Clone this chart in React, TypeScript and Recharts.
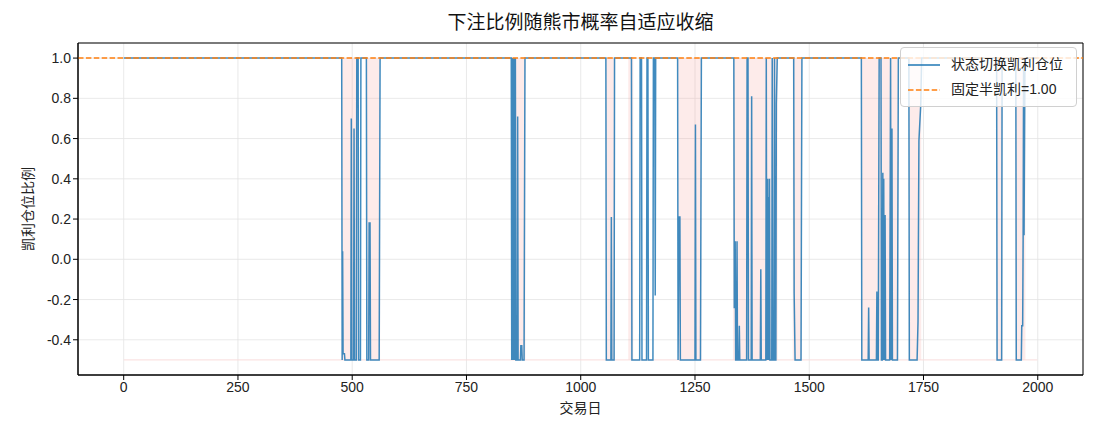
import React from 'react';
import {
  LineChart, Line, XAxis, YAxis, CartesianGrid, ReferenceLine, ReferenceArea,
} from 'recharts';

// Trading day breakpoints of the regime-switching Kelly position
const days = [
  0, 477, 478, 479, 480, 483, 484, 497, 498, 499, 503, 504, 505, 509, 510, 513, 514, 518, 519, 531,
  532, 536, 537, 539, 540, 559, 561,
  848, 849, 851, 852, 854, 855, 857, 858, 861, 862, 863, 868, 869, 871, 872, 876, 878,
  1055, 1056, 1066, 1067, 1068, 1073, 1074,
  1111, 1112, 1129, 1130, 1133, 1134, 1144, 1145, 1147, 1148, 1158, 1159, 1162, 1163, 1164,
  1212, 1213, 1215, 1217, 1218, 1250, 1251, 1252, 1262, 1264,
  1335, 1336, 1337, 1338, 1339, 1341, 1342, 1343, 1346, 1347, 1348, 1363, 1364, 1366, 1367, 1373,
  1374, 1375, 1393, 1394, 1395, 1405, 1406, 1407, 1409, 1410, 1411, 1412, 1413, 1414, 1418, 1419,
  1420, 1423, 1424, 1425, 1427, 1428, 1430,
  1466, 1467, 1469, 1482, 1484,
  1614, 1615, 1629, 1630, 1631, 1647, 1648, 1649, 1651, 1653, 1657, 1658, 1660, 1661, 1662, 1663,
  1664, 1666, 1667, 1676, 1678, 1679, 1681, 1682, 1693, 1695,
  1718, 1719, 1736, 1738, 1740, 1744, 1746,
  1910, 1911, 1921, 1922, 1952, 1953, 1964, 1965, 1967, 1968, 1969, 1970, 1972, 1999,
];
const kelly = [
  1.0, 1.0, -0.5, 0.04, -0.47, -0.47, -0.5, -0.5, 0.70, -0.5, -0.5, 0.65, -0.5, -0.5, 1.0, 1.0, -0.5, -0.5, 1.0, 1.0,
  -0.5, -0.5, 0.18, 0.18, -0.5, -0.5, 1.0,
  1.0, -0.5, 1.0, -0.5, 1.0, -0.5, 1.0, -0.5, -0.5, 0.71, -0.5, -0.5, -0.43, -0.43, -0.5, -0.5, 1.0,
  1.0, -0.5, -0.5, 0.21, -0.5, -0.5, 1.0,
  1.0, -0.5, -0.5, 1.0, 1.0, -0.5, -0.5, 1.0, 1.0, -0.5, -0.5, 1.0, 1.0, -0.18, 1.0,
  1.0, -0.5, 0.21, 0.21, -0.5, -0.5, 0.67, -0.5, -0.5, 1.0,
  1.0, -0.24, -0.24, 0.09, -0.5, -0.5, 0.09, -0.5, -0.5, -0.33, -0.5, -0.5, 1.0, 1.0, -0.5, -0.5,
  0.81, -0.5, -0.5, -0.05, -0.5, -0.5, 1.0, -0.5, 0.40, -0.5, 0.31, -0.5, 0.40, -0.5, -0.5, 1.0,
  -0.5, -0.5, 1.0, -0.5, -0.5, 0.77, 1.0,
  1.0, -0.17, -0.5, -0.5, 1.0,
  1.0, -0.5, -0.5, -0.24, -0.5, -0.5, -0.16, -0.5, -0.5, 1.0, 1.0, -0.5, -0.5, 0.43, -0.5, 0.40,
  -0.5, 0.22, -0.5, -0.5, 1.0, -0.5, 0.65, -0.5, -0.5, 1.0,
  1.0, -0.5, -0.5, -0.31, 0.59, 0.77, 1.0,
  1.0, -0.5, -0.5, 1.0, 1.0, -0.5, -0.5, -0.33, -0.33, 0.10, 0.95, 0.12, 1.0, 1.0,
];

// Bear regime spans (shaded)
const bearStart = [477, 532, 848, 1055, 1104, 1213, 1333, 1464, 1614, 1718, 1909, 1951];
const bearEnd = [512, 561, 879, 1075, 1115, 1264, 1431, 1484, 1695, 1745, 1923, 1973];

const halfKelly = 1.0;
const xTicks = [0, 250, 500, 750, 1000, 1250, 1500, 1750, 2000];
const yTicks = [-0.4, -0.2, 0.0, 0.2, 0.4, 0.6, 0.8, 1.0];
const xDomain: [number, number] = [-100, 2099];
const yDomain: [number, number] = [-0.575, 1.075];

const data = days.map((d, i) => ({ day: d, kelly: kelly[i] }));

const FONT = '"Liberation Sans", "Noto Sans CJK SC", sans-serif';
const BLUE = '#1f77b4';
const ORANGE = '#ff7f0e';

const LegendBox = () => (
  <div
    style={{
      position: 'absolute', left: 900, top: 47, width: 177, boxSizing: 'border-box',
      background: 'rgba(255,255,255,0.8)',
      border: '1px solid #d0d0d0',
      borderRadius: 4,
      padding: '4px 6px 4px 6px',
      fontFamily: FONT,
      fontSize: 14,
      color: '#222',
      lineHeight: '25px',
    }}
  >
    <div style={{ display: 'flex', alignItems: 'center' }}>
      <svg width={34} height={10} style={{ marginRight: 10 }}>
        <line x1={1} y1={5} x2={33} y2={5} stroke={BLUE} strokeWidth={1.5} />
      </svg>
      <span>状态切换凯利仓位</span>
    </div>
    <div style={{ display: 'flex', alignItems: 'center' }}>
      <svg width={34} height={10} style={{ marginRight: 10 }}>
        <line x1={1} y1={5} x2={33} y2={5} stroke={ORANGE} strokeWidth={1.5} strokeDasharray="5.5 2.4" />
      </svg>
      <span>固定半凯利=1.00</span>
    </div>
  </div>
);

export default function App() {
  return (
    <div style={{ position: 'absolute', left: 0, top: 0, width: 1100, height: 440, background: '#fff' }}>
      <div
        style={{
          position: 'absolute', left: 78, width: 1005, top: 10, textAlign: 'center',
          fontFamily: FONT, fontSize: 19, color: '#111', lineHeight: '26px',
        }}
      >
        下注比例随熊市概率自适应收缩
      </div>
      <LineChart
        width={1100}
        height={440}
        data={data}
        margin={{ top: 43, right: 17, bottom: 35, left: 0 }}
        style={{ fontFamily: FONT }}
      >
        <CartesianGrid stroke="#e3e3e3" strokeWidth={0.8} />
        {bearStart.map((s, i) => (
          <ReferenceArea
            key={i}
            x1={s}
            x2={bearEnd[i]}
            y1={-0.5}
            y2={1.0}
            fill="#f4a6a0"
            fillOpacity={0.22}
            stroke="none"
            ifOverflow="visible"
          />
        ))}
        <ReferenceLine
          segment={[{ x: 0, y: -0.5 }, { x: 1999, y: -0.5 }]}
          stroke="#f9dcdb"
          strokeWidth={1}
        />
        <XAxis
          type="number"
          dataKey="day"
          domain={xDomain}
          ticks={xTicks}
          allowDataOverflow
          height={30}
          tick={{ fontSize: 14, fill: '#222' }}
          tickSize={5}
          tickLine={{ stroke: '#000' }}
          axisLine={{ stroke: '#000' }}
          label={{ value: '交易日', position: 'bottom', offset: -2, fontSize: 14, fill: '#222' }}
        />
        <YAxis
          type="number"
          domain={yDomain}
          ticks={yTicks}
          allowDataOverflow
          width={78}
          tick={{ fontSize: 14, fill: '#222' }}
          tickSize={5}
          tickLine={{ stroke: '#000' }}
          axisLine={{ stroke: '#000' }}
          tickFormatter={(v: number) => v.toFixed(1)}
          label={{ value: '凯利仓位比例', angle: -90, position: 'center', dx: -11, fontSize: 14, fill: '#222' }}
        />
        <Line
          type="linear"
          dataKey="kelly"
          stroke={BLUE}
          strokeOpacity={0.85}
          strokeWidth={1.5}
          dot={false}
          isAnimationActive={false}
        />
        <ReferenceLine y={halfKelly} stroke={ORANGE} strokeWidth={1.5} strokeDasharray="5.5 2.4" />
        <ReferenceArea
          x1={xDomain[0]}
          x2={xDomain[1]}
          y1={yDomain[0]}
          y2={yDomain[1]}
          fill="none"
          stroke="#000"
          strokeWidth={1}
          ifOverflow="visible"
        />
      </LineChart>
      <LegendBox />
    </div>
  );
}
